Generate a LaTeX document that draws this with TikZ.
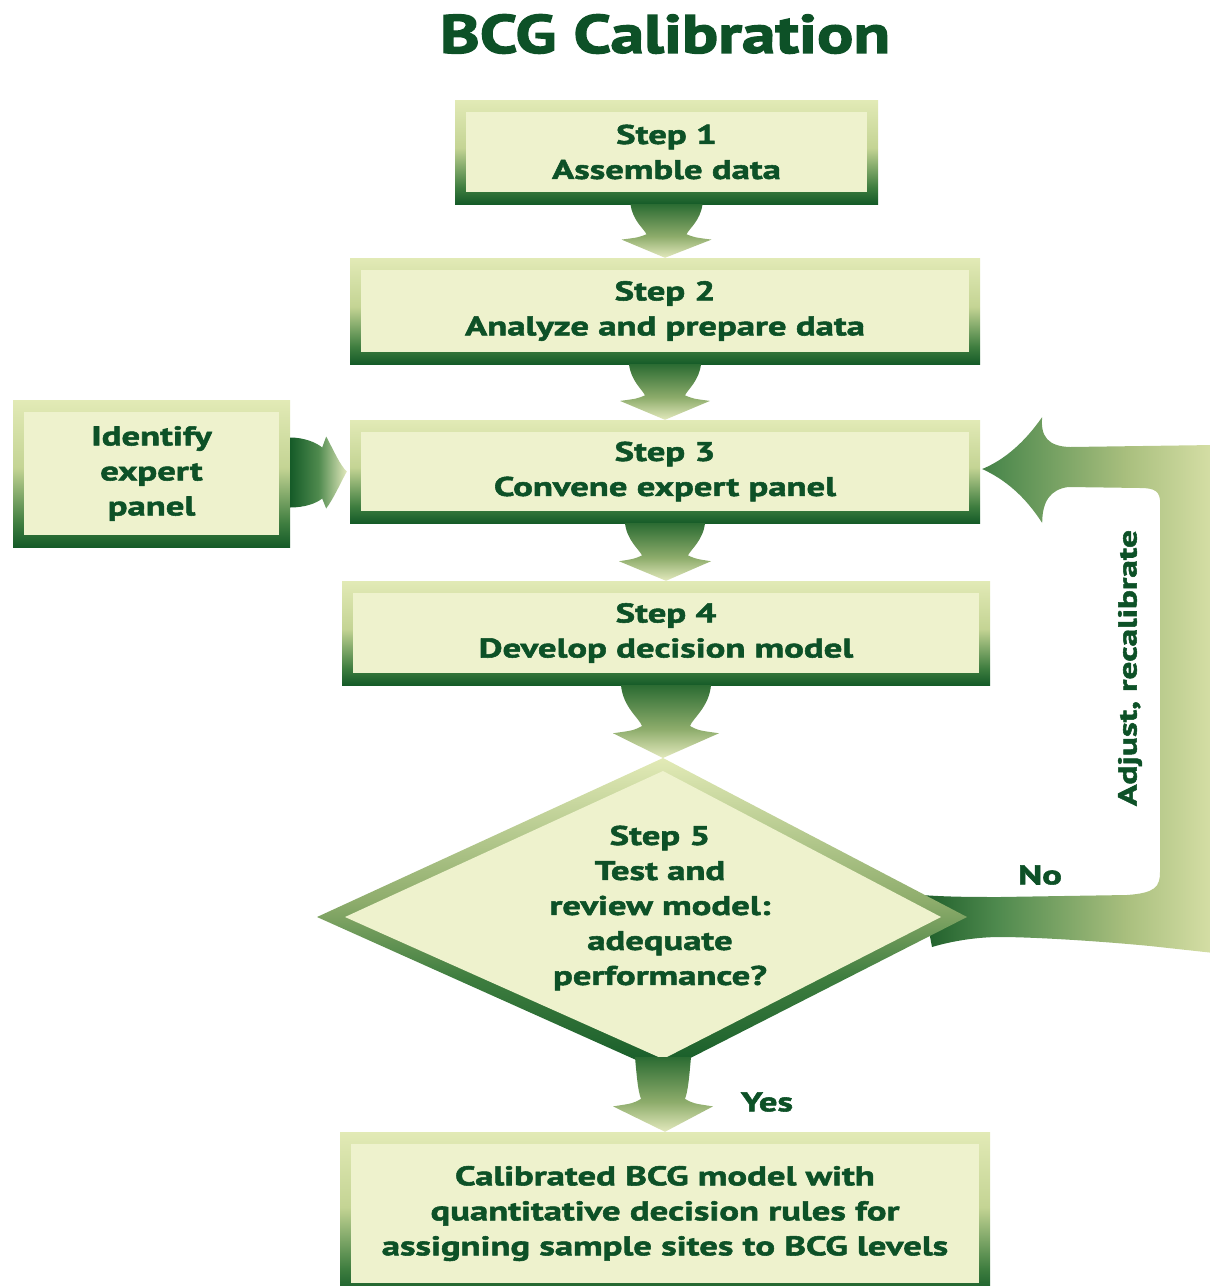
\documentclass[tikz,border=0pt]{standalone}
\usepackage{fontspec}
\newfontfamily\dfont{PT Sans}[FakeStretch=1.36,BoldFeatures={FakeBold=2}]
\newfontfamily\tfont{PT Sans}[FakeStretch=1.25,BoldFeatures={FakeBold=2.5}]
\usetikzlibrary{calc}
\definecolor{tgreen}{HTML}{0D5127}
\definecolor{boxfill}{HTML}{EEF2CD}
\definecolor{frD}{HTML}{155B28}
\definecolor{frD2}{HTML}{3E7D3F}
\definecolor{frL2}{HTML}{C4D494}
\definecolor{frL}{HTML}{E2EAB6}
\definecolor{arD}{HTML}{2C6C33}
\definecolor{arM}{HTML}{8DAC6B}
\definecolor{arL}{HTML}{E3E9BD}
\definecolor{fbD}{HTML}{1E5E2A}
\definecolor{fbM}{HTML}{4F8A4E}
\definecolor{fbL2}{HTML}{A9BF7E}
\definecolor{fbL}{HTML}{D6DFA6}
\pgfdeclareverticalshading{frameshade}{100bp}{color(0bp)=(frD); color(25bp)=(frD); color(33bp)=(frD2); color(52bp)=(frL2); color(75bp)=(frL); color(100bp)=(frL)}
\pgfdeclareverticalshading{diashade}{100bp}{color(0bp)=(frD); color(25bp)=(frD); color(40bp)=(frD2); color(52bp)=(arM); color(75bp)=(frL); color(100bp)=(frL)}
\pgfdeclareverticalshading{arrshade}{100bp}{color(0bp)=(arL); color(25bp)=(arL); color(45bp)=(arM); color(75bp)=(arD); color(100bp)=(arD)}
\pgfdeclarehorizontalshading{fbshade}{100bp}{color(0bp)=(fbD); color(25bp)=(fbD); color(38bp)=(fbM); color(60bp)=(fbL2); color(75bp)=(fbL); color(100bp)=(fbL)}
\pgfdeclarehorizontalshading{idshade}{100bp}{color(0bp)=(frD); color(25bp)=(frD); color(50bp)=(fbM); color(75bp)=(arL); color(100bp)=(arL)}
\newcommand\stepfont{\dfont\bfseries\fontsize{27}{35}\selectfont}
% down arrow: #1 start, #2 tip, #3 shaft half width, #4 barb half width, #5 narrowest half width
\newcommand\dnarrow[5]{%
  \shade[shading=arrshade] let \p1=(#1), \p2=(#2), \n1={\y1-\y2} in
   (\x1-#3,\y1) .. controls (\x1-#3+2pt,\y1-0.3*\n1) and (\x1-#5-3pt,\y1-0.45*\n1) .. (\x1-#5,\y1-0.56*\n1)
   .. controls (\x1-#5-8pt,\y1-0.62*\n1) .. (\x1-#4,\y1-0.66*\n1)
   -- (\x2,\y2) -- (\x1+#4,\y1-0.66*\n1)
   .. controls (\x1+#5+8pt,\y1-0.62*\n1) .. (\x1+#5,\y1-0.56*\n1)
   .. controls (\x1+#5+3pt,\y1-0.45*\n1) and (\x1+#3-2pt,\y1-0.3*\n1) .. (\x1+#3,\y1) -- cycle;}
\begin{document}
\begin{tikzpicture}[x=1pt,y=-1pt,
  txt/.style={font=\stepfont, text=tgreen, align=center, inner sep=0pt},
  gbox/.style={shade, shading=frameshade, txt,
    path picture={\fill[boxfill] ([xshift=11pt,yshift=-12pt]path picture bounding box.north west)
      rectangle ([xshift=-11pt,yshift=12pt]path picture bounding box.south east);}}]
\useasboundingbox (0,0) rectangle (1210,1286);

% title
\node[font=\tfont\bfseries\fontsize{54}{60}\selectfont, text=tgreen, inner sep=0pt] (title) at (665,34) {BCG Calibration};

% boxes
\node[gbox, minimum width=423pt, minimum height=104pt] (s1) at (666.5,152) {Step 1\\Assemble data};
\node[gbox, minimum width=630pt, minimum height=106pt] (s2) at (665,311) {Step 2\\Analyze and prepare data};
\node[gbox, minimum width=630pt, minimum height=103pt] (s3) at (665,471.5) {Step 3\\Convene expert panel};
\node[gbox, minimum width=648pt, minimum height=104pt] (s4) at (666,633) {Step 4\\Develop decision model};
\node[gbox, minimum width=277pt, minimum height=147pt] (idp) at (151.5,473.5) {Identify\\expert\\panel};
\node[gbox, minimum width=650pt, minimum height=163pt] (fin) at (665,1213.5) {Calibrated BCG model with\\quantitative decision rules for\\assigning sample sites to BCG levels};

% diamond corners
\coordinate (s5t) at (663,758);
\coordinate (s5l) at (317,917);
\coordinate (s5r) at (967,917);
\coordinate (s5b) at (663,1072);

% feedback arrow (No -> Step 3)
\shade[shading=fbshade]
  ($(s5r)+(-45,-22)$) .. controls ($(s5r)+(-20,-20)$) and ($(s5r)+(10,-20)$) .. ($(s5r)+(33,-20)$)
  -- ($(s5r)+(160,-22)$) .. controls ($(s5r)+(188,-24)$) and ($(s5r)+(193,-30)$) .. ($(s5r)+(193,-45)$)
  -- ($(s3.east)+(180,32)$) .. controls ($(s3.east)+(180,20)$) and ($(s3.east)+(175,16.5)$) .. ($(s3.east)+(160,16.5)$)
  -- ($(s3.east)+(88,15.5)$) .. controls ($(s3.east)+(70,18)$) and ($(s3.east)+(62,30)$) .. ($(s3.east)+(62,51.5)$)
  .. controls ($(s3.east)+(45,25)$) and ($(s3.east)+(25,8)$) .. ($(s3.east)+(2,-2.5)$)
  .. controls ($(s3.east)+(25,-12)$) and ($(s3.east)+(45,-30)$) .. ($(s3.east)+(62,-54.5)$)
  .. controls ($(s3.east)+(60,-35)$) and ($(s3.east)+(68,-25)$) .. ($(s3.east)+(90,-24.5)$)
  -- ($(s3.east)+(234,-26.5)$)
  -- ($(s5r)+(247,36)$)
  -- ($(s5r)+(183,29)$) .. controls ($(s5r)+(120,23)$) and ($(s5r)+(60,20)$) .. ($(s5r)+(33,20)$)
  .. controls ($(s5r)+(10,20)$) and ($(s5r)+(-15,24)$) .. ($(s5r)+(-35,30)$) -- cycle;

% diamond
\shade[shading=diashade] (s5t) -- (s5r) -- (s5b) -- (s5l) -- cycle;
\fill[boxfill] ($(s5t)+(0,13)$) -- ($(s5r)+(-26,0)$) -- ($(s5b)+(0,-13)$) -- ($(s5l)+(28,0)$) -- cycle;
\node[txt] (s5) at (660,908) {Step 5\\Test and\\review model:\\adequate\\performance?};

% down arrows
\dnarrow{s1.south}{s2.north}{36pt}{45pt}{20pt}
\dnarrow{s2.south}{s3.north}{36pt}{45pt}{20pt}
\dnarrow{s3.south}{s4.north}{40pt}{46pt}{23pt}
\dnarrow{s4.south}{s5t}{45pt}{53pt}{24pt}
\coordinate (s5bs) at ($(s5b)+(0,-15)$);
\dnarrow{s5bs}{fin.north}{28pt}{50pt}{22pt}

% identify -> step 3
\shade[shading=idshade] let \p1=(idp.east), \p2=(s3.west) in
  (\x1,\y1+36pt) .. controls (\x1+14pt,\y1+36pt) and (\x1+26pt,\y1+31pt) .. (\x1+32pt,\y1+26pt)
  -- (\x1+36pt,\y1+37pt) .. controls (\x1+44pt,\y1+22pt) and (\x1+50pt,\y1+8pt) .. (\x2-3pt,\y2)
  .. controls (\x1+50pt,\y1-10pt) and (\x1+44pt,\y1-24pt) .. (\x1+36pt,\y1-35pt)
  -- (\x1+32pt,\y1-25pt) .. controls (\x1+26pt,\y1-30pt) and (\x1+14pt,\y1-34pt) .. (\x1,\y1-34pt) -- cycle;

% labels
\node[txt] (no) at (1040,875) {No};
\node[txt] (yes) at (767,1102) {Yes};
\node[txt, rotate=90, font=\dfont\bfseries\fontsize{26}{32}\selectfont] (adj) at (1130,668) {Adjust, recalibrate};
\end{tikzpicture}
\end{document}
